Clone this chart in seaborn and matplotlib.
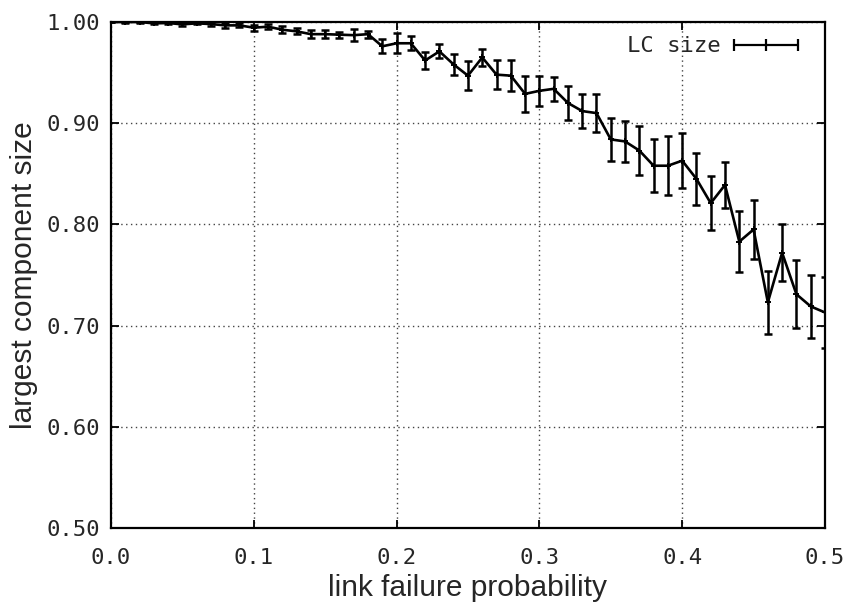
import numpy as np
import pandas as pd
import seaborn as sns
import matplotlib
matplotlib.use("Agg")
import matplotlib.pyplot as plt
from matplotlib.lines import Line2D

# link failure probability
p_fail = [0.00, 0.01, 0.02, 0.03, 0.04, 0.05, 0.06, 0.07, 0.08, 0.09,
          0.10, 0.11, 0.12, 0.13, 0.14, 0.15, 0.16, 0.17, 0.18, 0.19,
          0.20, 0.21, 0.22, 0.23, 0.24, 0.25, 0.26, 0.27, 0.28, 0.29,
          0.30, 0.31, 0.32, 0.33, 0.34, 0.35, 0.36, 0.37, 0.38, 0.39,
          0.40, 0.41, 0.42, 0.43, 0.44, 0.45, 0.46, 0.47, 0.48, 0.49,
          0.50]

# largest component size (mean)
lc_size = [1.000, 1.000, 1.000, 0.9987, 0.9990, 0.9977, 0.9987, 0.9980, 0.9967, 0.9967,
           0.9944, 0.9954, 0.9924, 0.9908, 0.9880, 0.9880, 0.9875, 0.9870, 0.9880, 0.976,
           0.979, 0.979, 0.962, 0.971, 0.958, 0.947, 0.965, 0.948, 0.947, 0.929,
           0.932, 0.934, 0.920, 0.912, 0.910, 0.884, 0.882, 0.873, 0.858, 0.858,
           0.863, 0.845, 0.821, 0.839, 0.783, 0.795, 0.723, 0.772, 0.731, 0.719,
           0.713]

# half width of error bars
lc_err = [0.0, 0.0005, 0.0005, 0.001, 0.001, 0.0015, 0.001, 0.0015, 0.0025, 0.002,
          0.003, 0.0025, 0.0035, 0.003, 0.004, 0.004, 0.003, 0.006, 0.0035, 0.007,
          0.010, 0.007, 0.0085, 0.007, 0.0105, 0.014, 0.008, 0.014, 0.0155, 0.018,
          0.0145, 0.012, 0.017, 0.0165, 0.019, 0.0215, 0.0205, 0.024, 0.026, 0.029,
          0.027, 0.026, 0.027, 0.0225, 0.0305, 0.029, 0.031, 0.028, 0.0335, 0.031,
          0.035]

x_ticks = [0.0, 0.1, 0.2, 0.3, 0.4, 0.5]
y_ticks = [0.50, 0.60, 0.70, 0.80, 0.90, 1.00]

df = pd.DataFrame({"p": p_fail, "lc": lc_size, "err": lc_err})

sns.set_style("ticks")
mono = "DejaVu Sans Mono"
sans = "Liberation Sans"

fig = plt.figure(figsize=(8.49, 6.10), dpi=100)
ax = fig.add_axes([0.1307, 0.1344, 0.841, 0.8295])

# error bars + line
ax.errorbar(df["p"], df["lc"], yerr=df["err"], fmt="none", ecolor="black",
            elinewidth=1.8, capsize=3.0, capthick=1.8, zorder=3)
sns.lineplot(data=df, x="p", y="lc", ax=ax, color="black", linewidth=1.9,
             marker="+", markersize=5, markeredgewidth=1.4,
             markeredgecolor="black", zorder=4, legend=False)

ax.set_xlim(0.0, 0.5)
ax.set_ylim(0.5, 1.0)
ax.set_xticks(x_ticks)
ax.set_yticks(y_ticks)
ax.set_xticklabels(["%.1f" % v for v in x_ticks], fontfamily=mono, fontsize=16)
ax.set_yticklabels(["%.2f" % v for v in y_ticks], fontfamily=mono, fontsize=16)
ax.tick_params(direction="in", length=6, width=1.3, top=True, right=True, color="black")
ax.tick_params(axis="x", pad=14.5)
ax.tick_params(axis="y", pad=8)

ax.grid(True, linestyle=(0, (1, 2.5)), color="#444444", linewidth=1.0)
for s in ax.spines.values():
    s.set_linewidth(1.6)
    s.set_color("black")

ax.set_xlabel("link failure probability", fontfamily=sans, fontsize=21.5, labelpad=4.5)
ax.set_ylabel("largest component size", fontfamily=sans, fontsize=21.5, labelpad=6)

handle = Line2D([], [], color="black", linewidth=1.6, marker="|",
                markersize=8, markeredgewidth=1.6)
ax.legend([handle], ["LC size"], loc="upper right", bbox_to_anchor=(1.0, 1.011),
          frameon=False, markerfirst=False, numpoints=3, handlelength=3.5,
          handletextpad=0.3, prop={"family": mono, "size": 16})

fig.savefig("out.png", dpi=100)
